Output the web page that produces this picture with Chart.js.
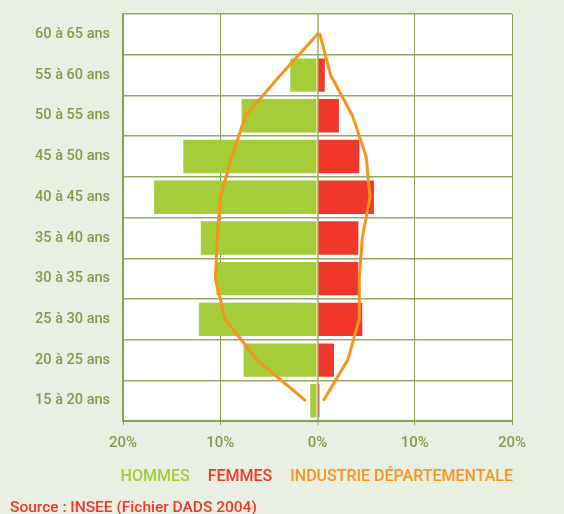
<!DOCTYPE html>
<html>
<head>
<meta charset="utf-8">
<script src="https://cdn.jsdelivr.net/npm/chart.js@4"></script>
<style>
  html, body { margin:0; padding:0; background:#e9f0e2; }
  #wrap { width:564px; height:514px; }
</style>
</head>
<body>
<div id="wrap"><canvas id="c" width="564" height="514"></canvas></div>
<script>
const categories = ['60 à 65 ans','55 à 60 ans','50 à 55 ans','45 à 50 ans','40 à 45 ans','35 à 40 ans','30 à 35 ans','25 à 30 ans','20 à 25 ans','15 à 20 ans'];
const hommes = [0, -2.8, -7.8, -13.8, -16.8, -12.0, -10.4, -12.2, -7.6, -0.75];
const femmes = [0, 0.75, 2.2, 4.3, 5.8, 4.2, 4.2, 4.6, 1.7, 0.2];
// Industrie départementale outline: left side (bottom to top), then right side (top to bottom)
const industrieGauche = [-1.2, -6.2, -9.5, -10.5, -10.3, -10.0, -8.8, -7.4, -3.8, 0];
const industrieDroite = [0.25, 1.35, 3.6, 5.0, 5.4, 4.6, 4.3, 4.3, 3.1, 0.6];
const xTicks = [-20, -10, 0, 10, 20];

const catsBottomUp = categories.slice().reverse();
const industriePoints = [];
industrieGauche.forEach((v, i) => industriePoints.push({x: v, y: catsBottomUp[i]}));
industrieDroite.forEach((v, i) => industriePoints.push({x: v, y: categories[i]}));

const GREEN = '#a5cc39', RED = '#ef3829', ORANGE = '#f7941d', OLIVE = '#7f9b4b', GRID = '#86a050';
const FONT = 'Roboto';

const bgPlugin = {
  id: 'bg',
  beforeDraw(chart) {
    const {ctx, chartArea: a} = chart;
    ctx.save();
    ctx.fillStyle = '#e9f0e2';
    ctx.fillRect(0, 0, chart.width, chart.height);
    ctx.fillStyle = '#ffffff';
    ctx.fillRect(a.left, a.top, a.right - a.left, a.bottom - a.top);
    ctx.restore();
  }
};

new Chart(document.getElementById('c'), {
  data: {
    labels: categories,
    datasets: [
      { type: 'bar', label: 'HOMMES', data: hommes, backgroundColor: GREEN, borderWidth: 0,
        grouped: false, categoryPercentage: 1, barPercentage: 0.82, order: 2, indexAxis: 'y' },
      { type: 'bar', label: 'FEMMES', data: femmes, backgroundColor: RED, borderWidth: 0,
        grouped: false, categoryPercentage: 1, barPercentage: 0.82, order: 2, indexAxis: 'y' },
      { type: 'line', label: 'INDUSTRIE DÉPARTEMENTALE', data: industriePoints, borderColor: ORANGE,
        backgroundColor: ORANGE, borderWidth: 3, pointRadius: 0, tension: 0, fill: false,
        order: 0, indexAxis: 'y', borderJoinStyle: 'miter' }
    ]
  },
  options: {
    indexAxis: 'y',
    responsive: false,
    animation: false,
    layout: { padding: { left: 10, right: 41, top: 14, bottom: 0 } },
    scales: {
      x: {
        type: 'linear', min: -20, max: 20,
        afterBuildTicks: (s) => { s.ticks = xTicks.map(v => ({value: v})); },
        afterFit: (s) => { s.height = 38; },
        grid: {
          color: (c) => (c.tick && c.tick.value === 0) ? '#adc383' : GRID,
          lineWidth: (c) => (c.tick && c.tick.value === 0) ? 2 : 1,
          tickLength: 4, drawTicks: true, tickColor: GRID, tickWidth: 1
        },
        border: { display: true, color: GRID, width: 2 },
        ticks: { color: OLIVE, padding: 9, font: { family: FONT, size: 15, weight: '500' },
                 callback: (v) => Math.abs(v) + '%' }
      },
      y: {
        type: 'category',
        offset: true,
        afterFit: (s) => { s.width = 113; s.paddingTop = 0; s.paddingBottom = 0; },
        grid: { color: '#94a866', lineWidth: 1.5, drawTicks: false, offset: true },
        border: { display: true, color: GRID, width: 1.5 },
        ticks: { color: OLIVE, padding: 13, font: { family: FONT, size: 14.5, weight: '500' } }
      },
      yr: {
        type: 'linear', axis: 'y', position: 'right', display: true,
        afterFit: (s) => { s.width = 11; s.paddingTop = 0; s.paddingBottom = 0; },
        grid: { display: false }, border: { display: false }, ticks: { display: false }
      }
    },
    plugins: {
      tooltip: { enabled: false },
      legend: {
        position: 'bottom',
        align: 'end',
        labels: {
          boxWidth: 0, boxHeight: 0, padding: 10,
          font: { family: FONT, size: 16, weight: '500' },
          generateLabels: (chart) => chart.data.datasets.map((d, i) => ({
            text: d.label,
            fontColor: [GREEN, RED, ORANGE][i],
            fillStyle: 'rgba(0,0,0,0)', strokeStyle: 'rgba(0,0,0,0)', lineWidth: 0,
            hidden: false, datasetIndex: i
          }))
        }
      },
      subtitle: {
        display: true,
        text: 'Source : INSEE (Fichier DADS 2004)',
        position: 'bottom',
        align: 'start',
        color: RED,
        padding: { top: 8, bottom: 0 },
        font: { family: FONT, size: 15.5, weight: '500', lineHeight: 0.7 }
      }
    }
  },
  plugins: [bgPlugin]
});
</script>
</body>
</html>
